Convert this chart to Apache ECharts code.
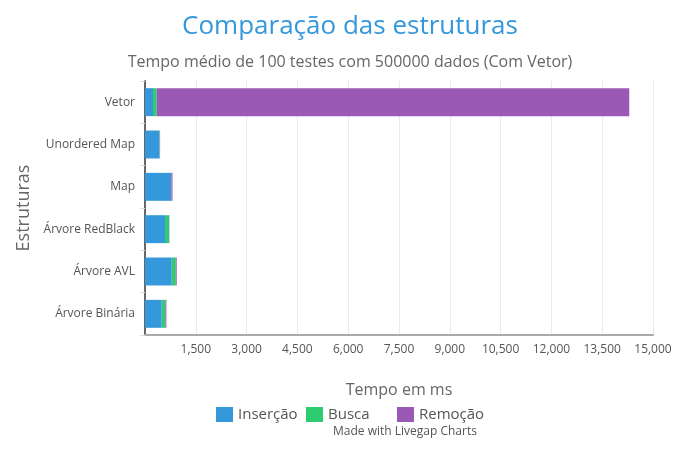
<!DOCTYPE html>
<html><head><meta charset="utf-8">
<script src="https://cdn.jsdelivr.net/npm/echarts@6/dist/echarts.min.js"></script>
<style>html,body{margin:0;padding:0;background:#fff}#c{width:700px;height:451px}</style>
</head><body><div id="c"></div>
<script>
const categories = ['Vetor', 'Unordered Map', 'Map', 'Árvore RedBlack', 'Árvore AVL', 'Árvore Binária'];
const insercao = [236, 425, 768, 591, 789, 493];
const busca = [110, 10, 10, 118, 118, 109];
const remocao = [13953, 10, 35, 10, 30, 30];
const seriesNames = ['Inserção', 'Busca', 'Remoção'];
const colors = ['#3498db', '#2ecc71', '#9b59b6'];
const font = '"Open Sans", sans-serif';
const legendLefts = [211, 301, 392];

const chart = echarts.init(document.getElementById('c'));
const mk = (name, data, i) => ({
  name, type: 'bar', stack: 'total', data,
  barCategoryGap: '34%',
  itemStyle: { color: colors[i] }
});
chart.setOption({
  animation: false,
  textStyle: { fontFamily: font },
  title: [{
    text: 'Comparação das estruturas', left: 'center', top: 9,
    textStyle: { color: '#3498db', fontSize: 26, fontWeight: 'normal', fontFamily: font }
  }, {
    text: 'Tempo médio de 100 testes com 500000 dados (Com Vetor)', left: 'center', top: 49,
    textStyle: { color: '#666', fontSize: 16, fontWeight: 'normal', fontFamily: font }
  }],
  legend: seriesNames.map((n, i) => ({
    data: [n], left: legendLefts[i], top: 402, itemWidth: 17, itemHeight: 15,
    icon: 'rect',
    textStyle: { color: '#555', fontSize: 15, fontFamily: font }
  })),
  graphic: [{
    type: 'text', left: 333, top: 426,
    style: { text: 'Made with Livegap Charts', fill: '#555', font: '12px "Open Sans", sans-serif' }
  }],
  grid: { left: 145, right: 47, top: 81, bottom: 116, containLabel: false },
  xAxis: {
    type: 'value', min: 0, max: 15000, interval: 1500,
    name: 'Tempo em ms', nameLocation: 'middle', nameGap: 47,
    nameTextStyle: { color: '#666', fontSize: 16, fontFamily: font },
    axisLine: { show: true, lineStyle: { color: '#aaa', width: 2 } },
    axisTick: { show: false },
    axisLabel: { showMinLabel: false, color: '#555', fontSize: 12, margin: 9, fontFamily: font },
    splitLine: { show: true, lineStyle: { color: '#eaeaea' } }
  },
  yAxis: {
    type: 'category', data: categories, inverse: true,
    name: 'Estruturas', nameLocation: 'middle', nameGap: 108, nameRotate: 90,
    nameTextStyle: { color: '#666', fontSize: 18, fontFamily: font },
    axisLine: { show: true, lineStyle: { color: '#666', width: 2 } },
    axisTick: { show: true, length: 5, lineStyle: { color: '#ddd' } },
    axisLabel: { color: '#555', fontSize: 12, margin: 10, fontFamily: font },
    splitLine: { show: false }
  },
  series: [mk(seriesNames[0], insercao, 0), mk(seriesNames[1], busca, 1), mk(seriesNames[2], remocao, 2)]
});
</script></body></html>
